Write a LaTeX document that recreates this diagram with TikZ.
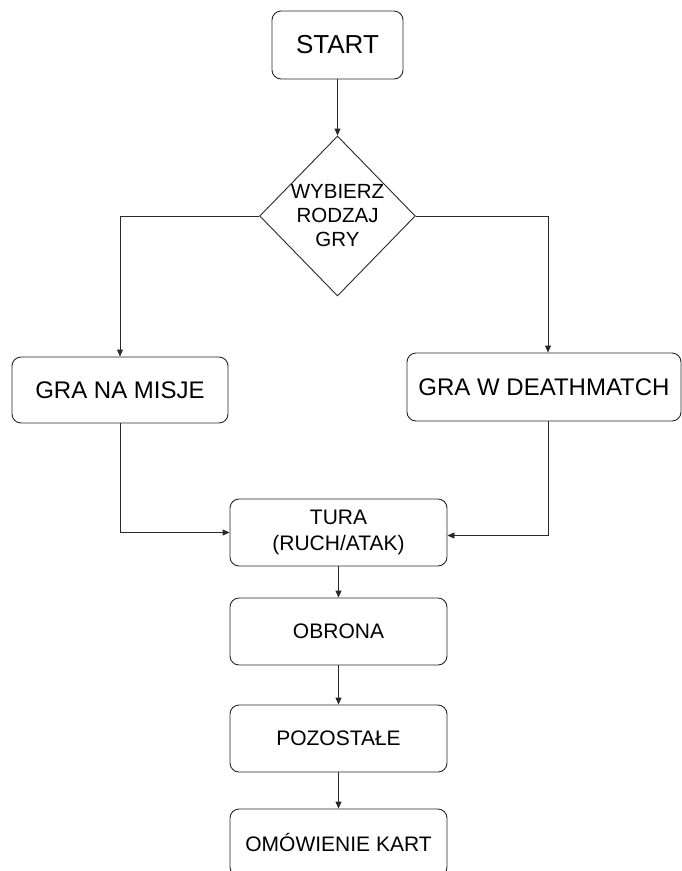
\documentclass[tikz,border=0pt]{standalone}
\usepackage{fontspec}
\setmainfont{Liberation Sans}
\usetikzlibrary{
	arrows.meta,
	shapes.geometric
}
\definecolor{BoxLine}{RGB}{40,40,40}

\begin{document}
\begin{tikzpicture}[x=1pt, y=-1pt,
		block/.style={draw=BoxLine, line width=0.9pt, rounded corners=9pt, minimum width=217pt, minimum height=67pt, inner sep=0pt, align=center, font=\fontsize{21}{26}\selectfont},
		decision/.style={draw=BoxLine, line width=0.9pt, diamond, minimum width=155pt, minimum height=160pt, inner sep=0pt, align=center, font=\fontsize{20.5}{24}\selectfont},
		flow/.style={draw=BoxLine, line width=0.9pt, -{Triangle[length=7pt, width=6pt]}}]
			\useasboundingbox (0,0) rectangle (682,871);
			\node[block, minimum width=131pt, minimum height=68pt, font=\fontsize{26}{30}\selectfont] (start) at (337.5,45) {START};
			\node[decision] (choose) at (337.5,216) {WYBIERZ\\RODZAJ\\GRY};
			\node[block, minimum width=216pt, minimum height=66pt, font=\fontsize{24}{28}\selectfont] (misje) at (120,390) {GRA NA MISJE};
			\node[block, minimum width=274pt, minimum height=68pt, font=\fontsize{24}{28}\selectfont] (death) at (544,387) {GRA W DEATHMATCH};
			\node[block] (tura) at (338.5,532.5) {TURA\\(RUCH/ATAK)};
			\node[block] (obrona) at (338.5,631.5) {OBRONA};
			\node[block] (pozostale) at (338.5,738.5) {POZOSTAŁE};
			\node[block] (karty) at (338.5,842.5) {OMÓWIENIE KART};
			\draw[flow] (start) -- (choose);
			\draw[flow] (choose.west) -| (misje.north);
			\draw[flow] (choose.east) -| ([xshift=4pt]death.north);
			\draw[flow] (misje.south) |- (tura.west);
			\draw[flow] ([xshift=4pt]death.south) |- ([yshift=-3pt]tura.east);
			\draw[flow] (tura) -- (obrona);
			\draw[flow] (obrona) -- (pozostale);
			\draw[flow] (pozostale) -- (karty);
		\end{tikzpicture}
\end{document}
